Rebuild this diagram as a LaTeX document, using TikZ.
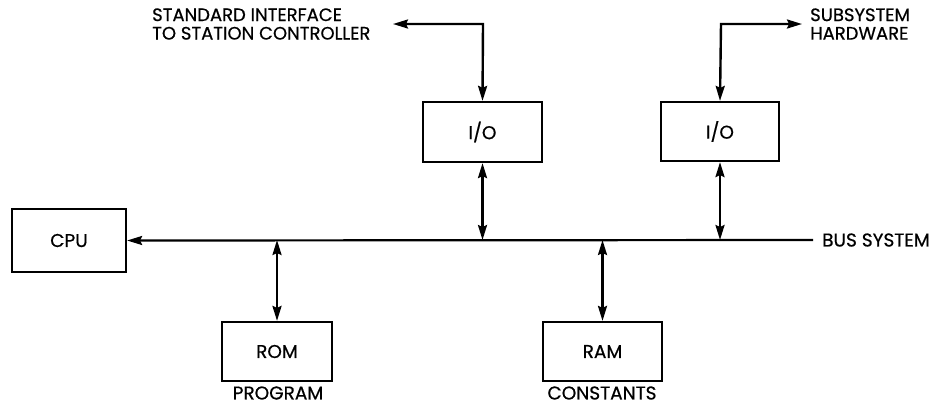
\documentclass[tikz,border=0pt]{standalone}
\usepackage{fontspec}
\setmainfont{Poppins}[FakeBold=0.6]
\usetikzlibrary{arrows.meta}
\begin{document}
\begin{tikzpicture}[x=1pt,y=-1pt,
  lw/.style={line width=2.4pt},
  box/.style={draw, line width=2.2pt, minimum height=59pt, inner sep=0pt},
  lbl/.style={font=\fontsize{18.5}{16.5}\selectfont, inner sep=0pt},
  two/.style={font=\fontsize{18}{18.5}\selectfont, inner sep=0pt, anchor=west, align=left},
  tip/.style={-{Stealth[length=15pt,width=9pt,inset=2pt]}},
  dtip/.style={{Stealth[length=15pt,width=9pt,inset=2pt]}-{Stealth[length=15pt,width=9pt,inset=2pt]}}]
\useasboundingbox (0,0) rectangle (931,408);
\node[box, lbl, minimum width=114pt, minimum height=63pt] (cpu) at (69,240.5) {CPU};
\node[box, lbl, minimum width=119pt, minimum height=60pt] (io1) at (482.5,132) {I/O};
\node[box, lbl, minimum width=118pt] (io2) at (720,131.5) {I/O};
\node[box, lbl, minimum width=110pt] (rom) at (277,351.5) {ROM};
\node[box, lbl, minimum width=119pt] (ram) at (602.5,351.5) {RAM};
\coordinate (busend) at (813,240);
\coordinate (c1) at (483,24);
\coordinate (e1) at (393,24);
\coordinate (c2) at (721,24);
\coordinate (e2) at (802,24);
\node[two] (std) at (152,24) {STANDARD INTERFACE\\TO STATION CONTROLLER};
\node[two] (sub) at (810,24) {SUBSYSTEM\\HARDWARE};
\node[lbl, anchor=west] (bus) at (822,240) {BUS SYSTEM};
\node[lbl] (prog) at (278,393) {PROGRAM};
\node[lbl] (const) at (602,393) {CONSTANTS};
\draw[line width=2.2pt, tip] (busend) -- (cpu.east);
\draw[lw, dtip] (io1.south) -- (io1.south |- busend);
\draw[lw, dtip] (io2.south) -- (io2.south |- busend);
\draw[lw, dtip] (rom.north) -- (rom.north |- busend);
\draw[lw, dtip] (ram.north) -- (ram.north |- busend);
\draw[lw, dtip] (e1) -- (c1) -- (io1.north);
\draw[lw, dtip] (e2) -- (c2) -- (io2.north);
\end{tikzpicture}
\end{document}
